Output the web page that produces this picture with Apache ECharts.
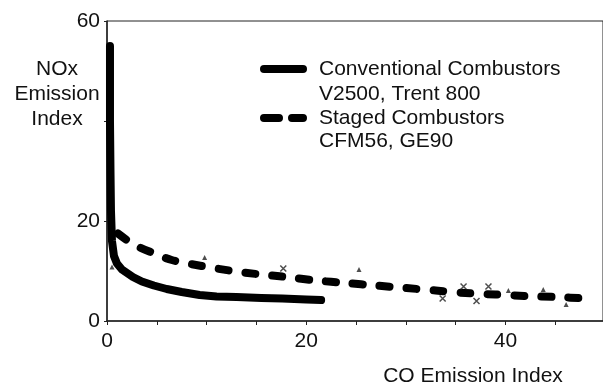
<!DOCTYPE html>
<html>
<head>
<meta charset="utf-8">
<script src="https://cdn.jsdelivr.net/npm/echarts@6/dist/echarts.min.js"></script>
<style>
html,body{margin:0;padding:0;background:#fff;}
#tu_1{width:603px;height:388px;}
</style>
</head>
<body>
<div id="tu_1"></div>
<script>
// conventional combustors (V2500, Trent 800) : [CO EI, NOx EI]
var conventional = [[0.3,55],[0.3,40],[0.35,30],[0.4,22],[0.5,16],[0.7,13],[1,11.5],[1.5,10.3],[2.6,8.8],[3.5,7.9],[4.7,7.1],[6,6.4],[7.5,5.8],[9.3,5.2],[11,4.9],[13,4.8],[15.5,4.6],[17.6,4.5],[20,4.3],[21.5,4.2]];
// staged combustors (CFM56, GE90)
var staged = [[1.1,17.5],[2.6,15.4],[4.5,13.7],[6.5,12.2],[9.5,11.0],[12.3,10.1],[15,9.4],[18,8.8],[21,8.1],[24,7.6],[27,7.1],[30,6.6],[33,6.1],[36,5.6],[39,5.3],[42,5.0],[45,4.8],[48.5,4.5]];
// measured points scattered round the curves
var ptsTri = [[9.8,12.7],[25.3,10.3],[40.3,6.1],[43.8,6.3],[46.1,3.3],[0.5,10.8]];
var ptsCross = [[17.7,10.5],[33.7,4.5],[35.8,6.9],[37.1,4.0],[38.3,6.9]];
var xLabels = [0,20,40];   // x tick labels shown
var yLabels = [0,20,60];   // y tick labels shown
var legendNames = ['Conventional Combustors','Staged Combustors'];
var legendSub = ['V2500, Trent 800','CFM56, GE90'];

var myChart_1;
var fnt = 'Liberation Sans, Arial, sans-serif';
// legend marks: one thick bar / two thick dashes
var iconSolid = 'path://M4,0H43A4,4,0,0,1,43,8H4A4,4,0,0,1,4,0Z';
var iconDash = 'path://M4,0H19A4,4,0,0,1,19,8H4A4,4,0,0,1,4,0ZM32,0H43A4,4,0,0,1,43,8H32A4,4,0,0,1,32,0Z';
myChart_1 = echarts.init(document.getElementById('tu_1'));
var option = {
	animation:false,
	backgroundColor:'#fff',
	title:[
		{text:'NOx\nEmission\nIndex',left:52,top:52,textAlign:'center',
		 textStyle:{fontFamily:fnt,fontSize:21,fontWeight:'normal',color:'#111',lineHeight:25,align:'center'}},
		{text:'CO Emission Index',left:468,top:361,textAlign:'center',
		 textStyle:{fontFamily:fnt,fontSize:21,fontWeight:'normal',color:'#111'}}
	],
	legend:{
		orient:'vertical',
		left:260,
		top:57,
		padding:0,
		itemWidth:47,
		itemHeight:8,
		itemGap:25,
		data:[
			{name:legendNames[0],icon:iconSolid,itemStyle:{color:'#000'}},
			{name:legendNames[1],icon:iconDash,itemStyle:{color:'#000'}}
		],
		textStyle:{fontFamily:fnt,fontSize:21,color:'#111',lineHeight:24,padding:[0,0,0,7]}
	},
	graphic:[
		{type:'text',left:319,top:84,style:{text:legendSub[0],fontFamily:fnt,fontSize:21,fill:'#111'}},
		{type:'text',left:319,top:131,style:{text:legendSub[1],fontFamily:fnt,fontSize:21,fill:'#111'}}
	],
	grid:{left:107,right:-2,top:21,bottom:67,show:true,borderColor:'#222',borderWidth:1},
	xAxis:{
		type:'value',min:0,max:49.8,interval:5,
		axisLine:{lineStyle:{color:'#222',width:1.5}},
		axisTick:{show:true,length:4,lineStyle:{color:'#222'}},
		splitLine:{show:false},
		axisLabel:{margin:10,fontFamily:fnt,fontSize:21,color:'#111',showMaxLabel:false,
			formatter:function(v){return xLabels.indexOf(v)>=0?String(v):'';}}
	},
	yAxis:{
		type:'value',min:0,max:60,interval:20,
		axisLine:{show:true,lineStyle:{color:'#222',width:1.5}},
		axisTick:{show:true,length:3,lineStyle:{color:'#222'}},
		splitLine:{show:false},
		axisLabel:{margin:7,fontFamily:fnt,fontSize:21,color:'#111',
			formatter:function(v){return yLabels.indexOf(v)>=0?String(v):'';}}
	},
	series:[
		{
			name:legendNames[0],type:'line',data:conventional,showSymbol:false,symbol:'none',
			lineStyle:{color:'#000',width:8,cap:'round',join:'round'},
			itemStyle:{color:'#000'},z:3
		},
		{
			name:legendNames[1],type:'line',data:staged,showSymbol:false,symbol:'none',smooth:0.3,
			lineStyle:{color:'#000',width:8,type:[10,17],cap:'round',join:'round'},
			itemStyle:{color:'#000'},z:3
		},
		{
			name:'tri',type:'scatter',data:ptsTri,symbol:'triangle',symbolSize:5,
			itemStyle:{color:'#222'},z:4
		},
		{
			name:'cross',type:'scatter',data:ptsCross,symbol:'path://M0,0L10,10M10,0L0,10',symbolSize:6,
			itemStyle:{color:'#222',borderColor:'#222',borderWidth:1.5},z:4
		}
	]
};
myChart_1.setOption(option);
</script>
</body>
</html>
